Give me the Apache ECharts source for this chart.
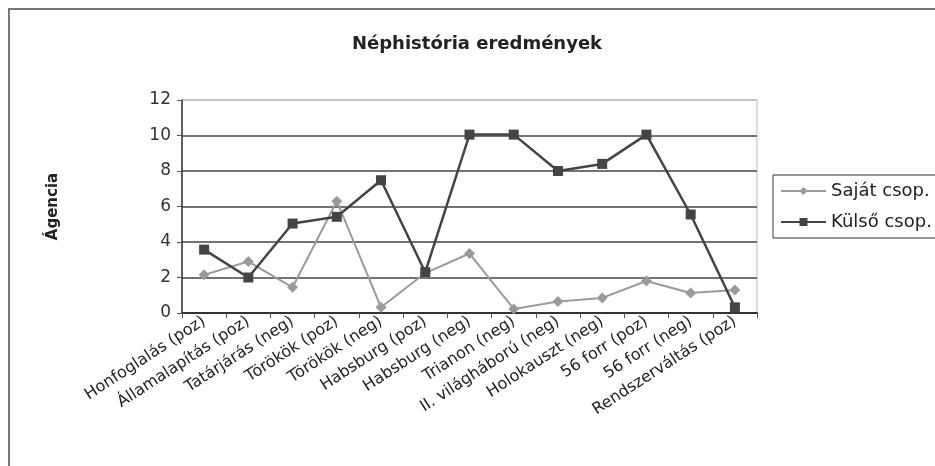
<!DOCTYPE html>
<html><head><meta charset="utf-8">
<script src="https://cdn.jsdelivr.net/npm/echarts@6/dist/echarts.min.js"></script>
<style>html,body{margin:0;padding:0;background:#fff}#c{width:935px;height:466px}</style>
</head><body><div id="c"></div>
<script>
const categories = ["Honfoglalás (poz)","Államalapítás (poz)","Tatárjárás (neg)","Törökök (poz)","Törökök (neg)","Habsburg (poz)","Habsburg (neg)","Trianon (neg)","II. világháború (neg)","Holokauszt (neg)","56 forr (poz)","56 forr (neg)","Rendszerváltás (poz)"];
const sajat = [2.15, 2.9, 1.45, 6.3, 0.32, 2.25, 3.35, 0.23, 0.65, 0.85, 1.8, 1.13, 1.3];
const kulso = [3.57, 2.0, 5.04, 5.42, 7.48, 2.3, 10.05, 10.05, 8.0, 8.4, 10.05, 5.55, 0.32];
const yTicks = [0, 2, 4, 6, 8, 10, 12];

const chart = echarts.init(document.getElementById('c'), null, {renderer: 'canvas'});
const font = "'DejaVu Sans', sans-serif";
chart.setOption({
  animation: false,
  backgroundColor: '#fff',
  graphic: [{
    type: 'polyline', shape: {points: [[9, 470], [9, 9], [940, 9]]},
    style: {stroke: '#777', lineWidth: 2, fill: null}
  }],
  title: {
    text: 'Néphistória eredmények', left: 472, top: 30, textAlign: 'center',
    textStyle: {fontFamily: font, fontSize: 18, fontWeight: 'bold', color: '#222'}
  },
  grid: {left: 182, right: 178, top: 100, bottom: 153, show: true, borderColor: '#bbb', borderWidth: 1},
  legend: {
    orient: 'vertical', left: 773, top: 175,
    borderColor: '#333', borderWidth: 1, padding: [7, 8, 7, 7],
    itemGap: 13, itemWidth: 45, itemHeight: 10,
    textStyle: {fontFamily: font, fontSize: 18, color: '#222'},
    data: ['Saját csop.', 'Külső csop.']
  },
  xAxis: {
    type: 'category', data: categories, boundaryGap: true,
    axisLine: {lineStyle: {color: '#333', width: 2}},
    axisTick: {show: true, lineStyle: {color: '#555'}, length: 5},
    axisLabel: {rotate: 33, interval: 0, fontFamily: font, fontSize: 16, color: '#222', margin: 7}
  },
  yAxis: {
    type: 'value', min: 0, max: 12, interval: 2,
    name: 'Ágencia', nameLocation: 'middle', nameGap: 121, nameRotate: 90,
    nameTextStyle: {fontFamily: font, fontSize: 15, fontWeight: 'bold', color: '#222'},
    axisLine: {show: true, lineStyle: {color: '#333', width: 1.5}},
    axisTick: {show: true, lineStyle: {color: '#555'}, length: 5},
    axisLabel: {fontFamily: font, fontSize: 17, color: '#333', margin: 11,
      formatter: v => yTicks.includes(v) ? String(v) : ''},
    splitLine: {lineStyle: {color: ['#444','#444','#444','#444','#444','#444','#bbb'], width: 1.5}}
  },
  series: [
    {name: 'Saját csop.', type: 'line', data: sajat, symbol: 'diamond', symbolSize: 11,
     lineStyle: {color: '#9a9a9a', width: 2}, itemStyle: {color: '#9a9a9a'}, z: 3},
    {name: 'Külső csop.', type: 'line', data: kulso, symbol: 'rect', symbolSize: 10,
     lineStyle: {color: '#444', width: 2.5}, itemStyle: {color: '#444'}, z: 4}
  ]
});
</script></body></html>
